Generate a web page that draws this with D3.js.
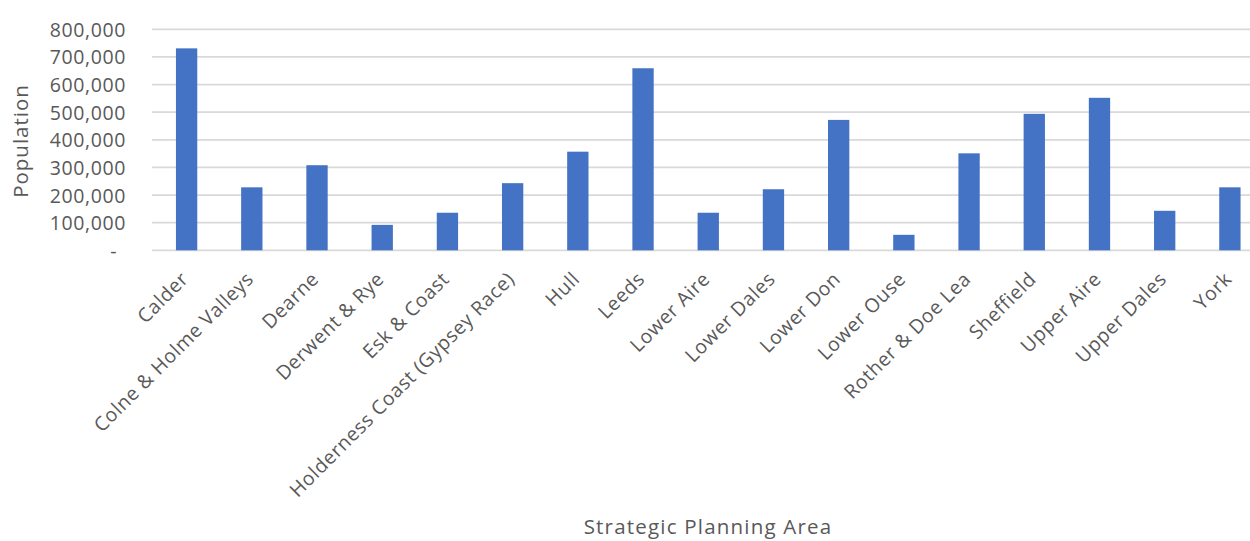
<!DOCTYPE html>
<html>
<head>
	<meta charset="UTF-8" />
	<title>population by strategic planning area</title>
	<script src="https://d3js.org/d3.v7.min.js"></script>
	<style>
		body { margin: 0; background: #fff; }
		text { font-family: "Open Sans", "Noto Sans", sans-serif; fill: #595959; }
	</style>
</head>
<body>
	<svg id="chart" style="width:1250px; height:541px; display:block"></svg>

	<script type="text/javascript">
	// data
	var areas = ["Calder", "Colne & Holme Valleys", "Dearne", "Derwent & Rye", "Esk & Coast",
		"Holderness Coast (Gypsey Race)", "Hull", "Leeds", "Lower Aire", "Lower Dales", "Lower Don",
		"Lower Ouse", "Rother & Doe Lea", "Sheffield", "Upper Aire", "Upper Dales", "York"]
	var population = [731000, 228000, 308000, 92000, 136000, 243000, 357000, 659000, 136000,
		221000, 472000, 56000, 351000, 494000, 552000, 143000, 228000]
	var yTicks = [0, 100000, 200000, 300000, 400000, 500000, 600000, 700000, 800000]

	var barBlue = "#4472c4"
	var gridGray = "#d9d9d9"

	var svg = d3.select("#chart")

	// bands run a little past the right edge, the picture is cropped there
	var xScale = d3.scaleBand()
		.domain(areas)
		.range([154, 1262.5])
		.paddingInner(0.673)
		.paddingOuter(0.3365)

	var yScale = d3.scaleLinear().domain([0, 800000]).range([250.3, 29.3])

	// gridlines
	svg.append("g")
		.selectAll("line")
		.data(yTicks)
		.enter()
		.append("line")
		.attr("x1", 152)
		.attr("x2", 1250)
		.attr("y1", d => yScale(d))
		.attr("y2", d => yScale(d))
		.style("stroke", gridGray)
		.style("stroke-width", "1.8px")

	// y axis labels
	var yAxis = d3.axisLeft(yScale)
		.tickValues(yTicks)
		.tickSize(0)
		.tickPadding(0)
		.tickFormat(d => d === 0 ? "-" : d3.format(",")(d))
	var yg = svg.append("g").attr("transform", "translate(126,0)").call(yAxis)
	yg.select(".domain").remove()
	yg.selectAll("text")
		.style("font-size", "19.5px")
		.style("letter-spacing", "0.6px")
		.style("fill", "#595959")
		.attr("dy", "0.36em")
	yg.selectAll(".tick").filter(d => d === 0).select("text").attr("x", -9)

	// bars
	svg.append("g")
		.selectAll("rect")
		.data(population)
		.enter()
		.append("rect")
		.attr("x", (d, i) => xScale(areas[i]))
		.attr("width", xScale.bandwidth())
		.attr("y", d => yScale(d))
		.attr("height", d => yScale(0) - yScale(d))
		.style("fill", barBlue)

	// x axis labels, rotated
	var xAxis = d3.axisBottom(xScale).tickSize(0).tickPadding(0)
	var xg = svg.append("g").attr("transform", `translate(0,${yScale(0)})`).call(xAxis)
	xg.select(".domain").remove()
	xg.selectAll("text")
		.style("font-size", "19.5px")
		.style("letter-spacing", "0.6px")
		.style("fill", "#595959")
		.attr("text-anchor", "end")
		.attr("dy", 0)
		.attr("y", 0)
		.attr("transform", "translate(3,30) rotate(-45)")

	// axis titles
	svg.append("text")
		.attr("transform", "translate(28,141) rotate(-90)")
		.attr("text-anchor", "middle")
		.style("font-size", "20.5px")
		.style("letter-spacing", "1px")
		.text("Population")

	svg.append("text")
		.attr("x", 708)
		.attr("y", 534)
		.attr("text-anchor", "middle")
		.style("font-size", "20.5px")
		.style("letter-spacing", "1.2px")
		.text("Strategic Planning Area")
	</script>
</body>
</html>
